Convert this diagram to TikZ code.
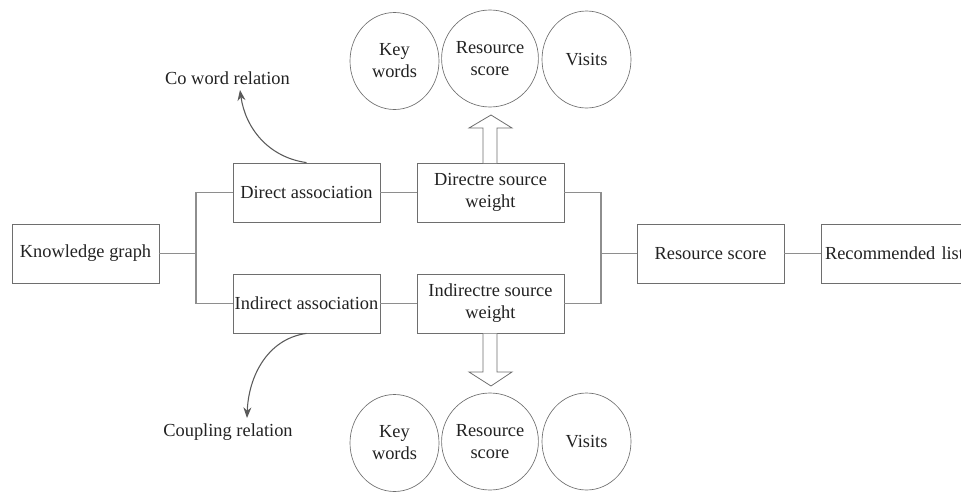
\documentclass[tikz,border=0pt]{standalone}
\usepackage{fontspec}
\setmainfont{Liberation Serif}
\usetikzlibrary{shapes.geometric, arrows.meta}

\definecolor{boxgray}{HTML}{6E6E6E}
\definecolor{linegray}{HTML}{8E8E8E}
\definecolor{arrgray}{HTML}{5A5A5A}
\definecolor{txt}{HTML}{222222}

\begin{document}
\begin{tikzpicture}[x=0.75pt, y=-0.75pt,
  font=\rmfamily\fontsize{13.8}{16.5}\selectfont, text=txt,
  stepbox/.style={draw=boxgray, line width=0.6pt, minimum width=110.25pt,
    minimum height=44.25pt, inner sep=0pt, align=center},
  factor/.style={draw=boxgray, line width=0.5pt, ellipse, minimum width=66.75pt,
    minimum height=72.75pt, inner sep=0pt, align=center},
  link/.style={draw=linegray, line width=0.8pt},
  relarrow/.style={draw=arrgray, line width=0.8pt, -{Stealth[length=8pt, width=6pt]}},
  hollow/.style={draw=boxgray, fill=white, line width=0.6pt, line join=miter}]

  \clip (0,0) rectangle (961,493);

  % main chain
  \node[stepbox] (kg)      at (85.5, 253.5) {Knowledge graph};
  \node[stepbox] (direct)  at (306.5, 192.5) {Direct association};
  \node[stepbox] (indirect) at (306.5, 303.5) {Indirect association};
  \node[stepbox] (dweight) at (490.5, 192.5) {Directre source\\weight};
  \node[stepbox] (iweight) at (490.5, 303.5) {Indirectre source\\weight};
  \node[stepbox] (rscore)  at (710.5, 253.5) {Resource score};
  \node[stepbox, text width=104.25pt, align=left, inner xsep=3pt] (rlist) at (894.5, 253.5) {Recommended list};

  % branch points
  \coordinate (jl) at (196, 253.5);
  \coordinate (jr) at (601, 253.5);

  \draw[link] (kg.east) -- (jl);
  \draw[link] (direct.west) -| (jl) |- (indirect.west);
  \draw[link] (direct.east) -- (dweight.west);
  \draw[link] (indirect.east) -- (iweight.west);
  \draw[link] (dweight.east) -| (jr) |- (iweight.east);
  \draw[link] (jr) -- (rscore.west);
  \draw[link] (rscore.east) -- (rlist.west);

  % relations
  \node (coword)   at (227.5, 78)  {Co word relation};
  \node (coupling) at (228, 432) {Coupling relation};
  \coordinate (cwend) at (240, 90);
  \coordinate (cpend) at (247, 418);
  \draw[relarrow] (direct.north) to[out=172, in=-82] (cwend);
  \draw[relarrow] (indirect.south) to[out=188, in=88] (cpend);

  % weight factors, top
  \node[factor] (kw1)  at (394.5, 61) {Key\\words};
  \node[factor] (rs1)  at (490, 58.5) {Resource\\score};
  \node[factor] (vis1) at (586.5, 59.5) {Visits};

  % weight factors, bottom
  \node[factor] (kw2)  at (394.5, 443) {Key\\words};
  \node[factor] (rs2)  at (490, 441.5) {Resource\\score};
  \node[factor] (vis2) at (586.5, 441.5) {Visits};

  % hollow arrows
  \draw[hollow] (483, 163) -- (483, 128) -- (469, 128) -- (491, 115)
    -- (512, 128) -- (497, 128) -- (497, 163);
  \draw[hollow] (483, 333.5) -- (483, 372) -- (469, 372) -- (491, 386)
    -- (512, 372) -- (497, 372) -- (497, 333.5);
\end{tikzpicture}
\end{document}
